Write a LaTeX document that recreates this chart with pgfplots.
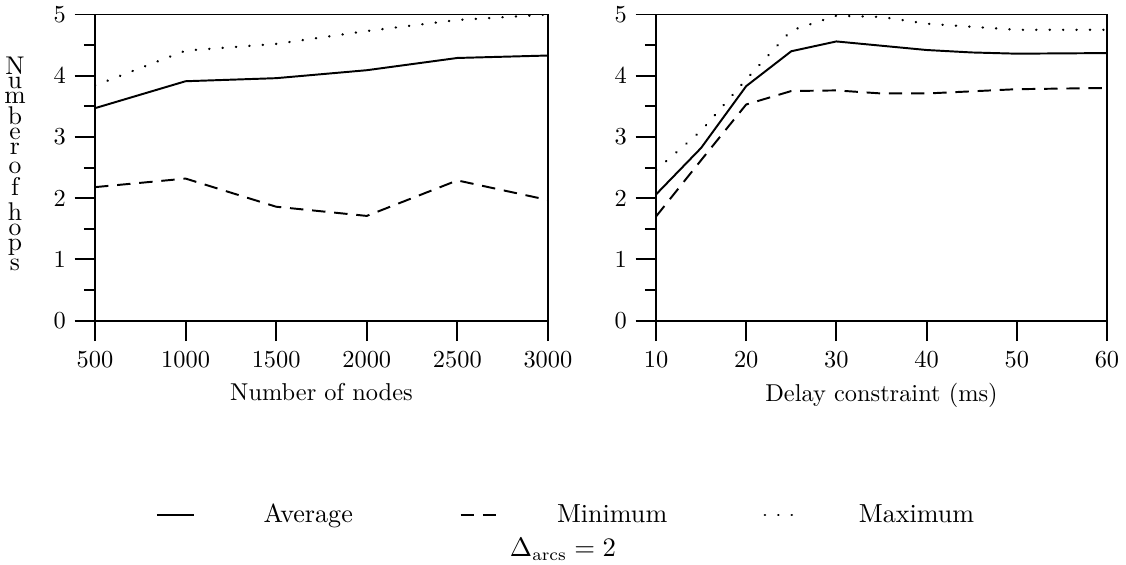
\documentclass[border=0pt]{standalone}
\usepackage{pgfplots}
\pgfplotsset{compat=1.18}
\begin{document}
\begin{tikzpicture}
\useasboundingbox (0,0) rectangle (461.66pt,231.65pt);
\pgfplotsset{
  myax/.style={
    scale only axis,
    anchor=south west,
    height=125.5pt,
    ymin=0, ymax=5,
    ytick={0,1,2,3,4,5},
    minor y tick num=1,
    xtick pos=bottom, ytick pos=left,
    tick align=outside,
    major tick length=8.4pt,
    minor tick length=4.6pt,
    axis line style={line width=0.8pt},
    every tick/.style={line width=0.8pt, black},
    every minor tick/.style={line width=0.8pt, black},
    tick label style={font=\fontsize{10}{12}\selectfont},
    x tick label style={yshift=-1pt},
    scaled x ticks=false,
    xticklabel style={/pgf/number format/1000 sep={}},
    label style={font=\fontsize{10}{12}\selectfont},
    xlabel style={yshift=0.5pt},
  },
  avg/.style={black, line width=0.8pt},
  mini/.style={black, line width=0.8pt, dash pattern=on 5.5pt off 3.6pt},
  maxi/.style={black, line width=1pt, line cap=round, dash pattern=on 0.1pt off 5.4pt},
}
\begin{axis}[myax,
  at={(38.95pt,100.2pt)}, width=185.7pt,
  xmin=500, xmax=3000, xtick={500,1000,1500,2000,2500,3000},
  xlabel={Number of nodes},
  legend columns=3,
  legend style={draw=none, fill=none, at={(0.117,-0.636)}, anchor=west,
    font=\fontsize{10.7}{12}\selectfont},
  legend cell align=left,
  legend image code/.code={\draw[#1] (0pt,0pt) -- (15.3pt,0pt);},
]
\addplot[avg] coordinates {(500,3.47)(1000,3.91)(1500,3.96)(2000,4.09)(2500,4.29)(3000,4.33)};
\addlegendentry{\makebox[104.5pt][l]{\makebox[88.8pt][c]{Average}}}
\addplot[mini] coordinates {(500,2.18)(1000,2.32)(1500,1.86)(2000,1.71)(2500,2.29)(3000,1.97)};
\addlegendentry{\makebox[104.5pt][l]{\makebox[88.8pt][c]{Minimum}}}
\addplot[maxi] coordinates {(500,3.84)(1000,4.41)(1500,4.52)(2000,4.73)(2500,4.91)(3000,5.0)};
\addlegendentry{\makebox[88.8pt][c]{Maximum}}
\end{axis}
\begin{axis}[myax,
  at={(268.96pt,100.2pt)}, width=184.9pt,
  xmin=10, xmax=60, xtick={10,20,30,40,50,60},
  xlabel={Delay constraint (ms)},
]
\addplot[avg] coordinates {(10,2.06)(15,2.82)(20,3.83)(25,4.40)(30,4.56)(40,4.42)(45,4.38)(50,4.36)(60,4.37)};
\addplot[mini] coordinates {(10,1.70)(15,2.62)(20,3.53)(25,3.75)(30,3.76)(35,3.71)(40,3.71)(50,3.78)(60,3.80)};
\addplot[maxi] coordinates {(10,2.46)(15,3.10)(20,3.94)(25,4.74)(30,4.98)(35,4.96)(40,4.85)(50,4.75)(60,4.75)};
\end{axis}
\node[font=\fontsize{10.5}{12}\selectfont, inner sep=0pt] at (6.15pt,164.6pt)
  {\shortstack{N\\[-1.7pt]u\\[-1.7pt]m\\[-1.7pt]b\\[-1.7pt]e\\[-1.7pt]r\\[0.3pt]o\\[-1.7pt]f\\[0.3pt]h\\[-1.7pt]o\\[-1.7pt]p\\[-1.7pt]s}};
\node[font=\fontsize{10.7}{12}\selectfont] at (230.8pt,6.4pt) {$\Delta_{\mathrm{arcs}} = 2$};
\end{tikzpicture}
\end{document}
